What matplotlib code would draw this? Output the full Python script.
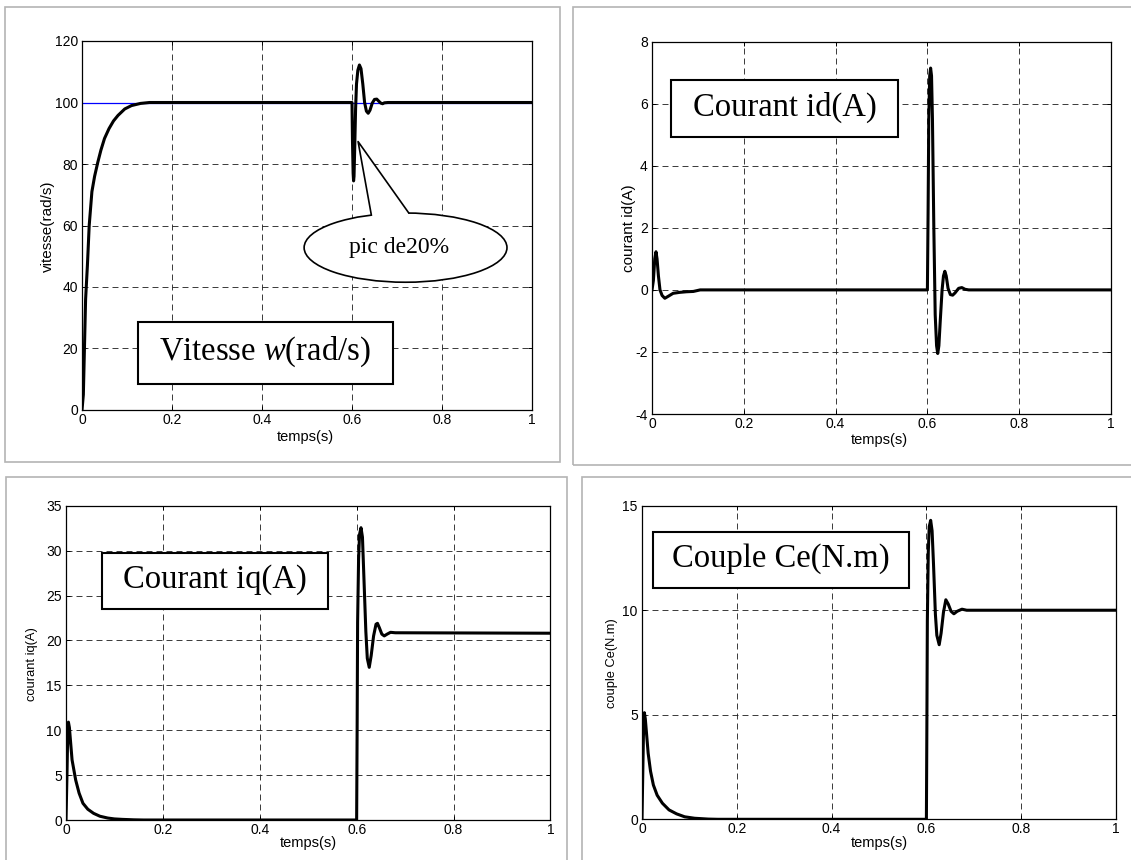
import matplotlib
matplotlib.use("Agg")
import matplotlib.pyplot as plt
from matplotlib.patches import Rectangle, Ellipse, Polygon

# Simulation results: speed, d/q currents and torque (load step at t = 0.6 s)
speed_t = [0, 0.003, 0.008, 0.012, 0.016, 0.022, 0.028, 0.035, 0.042, 0.05,
           0.06, 0.07, 0.08, 0.095, 0.11, 0.13, 0.15, 0.6,
           0.601, 0.6025, 0.6035, 0.6045, 0.606, 0.608, 0.610, 0.613, 0.6165,
           0.620, 0.624, 0.628, 0.632, 0.636, 0.640, 0.645, 0.650, 0.655,
           0.659, 0.664, 0.668, 0.672, 0.68, 1.0]
speed_v = [0, 5, 36, 47, 60, 71, 76, 80.5, 84.5, 88.3,
           91.5, 94, 95.8, 97.9, 99, 99.7, 100, 100,
           88, 77, 74.5, 76, 85, 98, 106, 110.5, 112.2,
           111, 106, 100, 97.2, 96.5, 97.5, 99.8, 101, 101.1,
           100.5, 99.8, 99.6, 99.9, 100, 100]
speed_ref_t = [0, 1]
speed_ref_v = [100, 100]

id_t = [0, 0.003, 0.006, 0.0087, 0.011, 0.014, 0.0174, 0.022, 0.028, 0.036,
        0.046, 0.06, 0.075, 0.09, 0.105, 0.6,
        0.6015, 0.603, 0.605, 0.607, 0.609, 0.611, 0.614, 0.617, 0.620,
        0.6225, 0.625, 0.628, 0.632, 0.635, 0.638, 0.641, 0.645, 0.650,
        0.655, 0.660, 0.668, 0.675, 0.682, 0.690, 1.0]
id_v = [0, 0.3, 1.0, 1.23, 1.0, 0.45, 0.0, -0.18, -0.27, -0.2,
        -0.11, -0.08, -0.06, -0.05, 0, 0,
        2.5, 5.5, 6.9, 7.15, 6.9, 5.5, 2.0, -0.8, -1.8,
        -2.05, -1.8, -1.0, 0.0, 0.45, 0.6, 0.45, 0.05, -0.15,
        -0.17, -0.1, 0.05, 0.075, 0.02, 0, 0]

iq_t = [0, 0.002, 0.003, 0.005, 0.007, 0.0125, 0.02, 0.027, 0.035, 0.045,
        0.057, 0.07, 0.086, 0.1, 0.116, 0.14, 0.16, 0.6,
        0.601, 0.602, 0.604, 0.606, 0.609, 0.612, 0.615, 0.619, 0.622,
        0.626, 0.630, 0.635, 0.640, 0.643, 0.647, 0.652, 0.657, 0.663,
        0.670, 0.680, 1.0]
iq_v = [0, 5, 8, 10.9, 10.3, 6.7, 4.45, 3.0, 1.86, 1.2,
        0.74, 0.42, 0.22, 0.12, 0.07, 0.02, 0, 0,
        10, 22, 29, 31.8, 32.55, 31.5, 27, 21, 18,
        17.0, 18.3, 20.5, 21.8, 21.9, 21.4, 20.7, 20.5, 20.7,
        20.9, 20.85, 20.8]

ce_t = [0, 0.003, 0.005, 0.007, 0.013, 0.018, 0.024, 0.032, 0.043, 0.057,
        0.073, 0.09, 0.111, 0.14, 0.16, 0.6,
        0.601, 0.602, 0.604, 0.606, 0.609, 0.612, 0.615, 0.619, 0.622,
        0.627, 0.631, 0.636, 0.641, 0.646, 0.652, 0.658, 0.665, 0.675,
        0.685, 1.0]
ce_v = [0, 4, 5.1, 4.8, 3.16, 2.3, 1.64, 1.15, 0.77, 0.45,
        0.26, 0.12, 0.05, 0.01, 0, 0,
        4.5, 9.5, 12.8, 14.0, 14.3, 13.8, 12.2, 9.8, 8.8,
        8.35, 8.9, 9.9, 10.5, 10.3, 9.95, 9.83, 9.95, 10.05,
        10, 10]

x_ticks = [0, 0.2, 0.4, 0.6, 0.8, 1]
x_ticklabels = ["0", "0.2", "0.4", "0.6", "0.8", "1"]

W, H = 1131, 860
plt.rcParams["font.family"] = "Liberation Sans"
plt.rcParams["lines.scale_dashes"] = False
plt.rcParams["mathtext.fontset"] = "custom"
plt.rcParams["mathtext.rm"] = "Liberation Serif"
plt.rcParams["mathtext.it"] = "Liberation Serif:italic"

fig = plt.figure(figsize=(W / 100, H / 100), dpi=100)


def fx(x):
    return x / W


def fy(y):
    return 1 - y / H


def add_panel_frame(l, t, r, b):
    fig.add_artist(Rectangle((fx(l), fy(b)), (r - l) / W, (b - t) / H,
                             transform=fig.transFigure, fill=False,
                             ec="#b4b4b4", lw=1.2))


def make_axes(l, t, r, b, ylim, yticks):
    ax = fig.add_axes([fx(l), fy(b), (r - l) / W, (b - t) / H])
    ax.set_xlim(0, 1)
    ax.set_ylim(*ylim)
    ax.set_xticks(x_ticks)
    ax.set_xticklabels(x_ticklabels)
    ax.set_yticks(yticks)
    ax.set_yticklabels([str(v) for v in yticks])
    ax.grid(True, color="0.1", linestyle=(0, (4.3, 2.9)), lw=0.6)
    ax.tick_params(direction="in", top=True, right=True, length=3,
                   width=0.7, labelsize=10, pad=3)
    ax.tick_params(axis="x", pad=2)
    for s in ax.spines.values():
        s.set_linewidth(0.9)
    return ax


def label_box(l, t, r, b, text):
    fig.add_artist(Rectangle((fx(l), fy(b)), (r - l) / W, (b - t) / H,
                             transform=fig.transFigure, fc="white",
                             ec="black", lw=1.5, zorder=10))
    fig.text(fx((l + r) / 2), fy((t + b) / 2 - 1), text, ha="center",
             va="center", fontsize=23.5, family="Liberation Serif",
             zorder=11)


def axis_labels(xl_x, xl_y, xlabel, yl_x, yl_y, ylabel, ysize):
    fig.text(fx(xl_x), fy(xl_y), xlabel, ha="center", va="center",
             fontsize=10.5)
    fig.text(fx(yl_x), fy(yl_y), ylabel, ha="center", va="center",
             rotation=90, fontsize=ysize)


# gray frames around each sub-figure
add_panel_frame(5, 7.3, 560, 461.7)
add_panel_frame(573, 7.3, 1140, 465)
add_panel_frame(5.7, 476.7, 566.7, 870)
add_panel_frame(581.7, 476.7, 1140, 870)

# speed
ax1 = make_axes(82, 41, 532, 410, (0, 120), [0, 20, 40, 60, 80, 100, 120])
ax1.plot(speed_ref_t, speed_ref_v, color="blue", lw=0.9)
ax1.plot(speed_t, speed_v, color="black", lw=2.2)
ax1.add_patch(Ellipse((0.719, 52.8), 0.4508, 22.5, fc="white", ec="black",
                      lw=1.2, zorder=5))
ax1.add_patch(Polygon([(0.6135, 87.3), (0.643, 63.4), (0.66, 58),
                       (0.71, 58), (0.726, 64.1)],
                      closed=True, fc="white", ec="none", zorder=6))
ax1.plot([0.643, 0.6135, 0.726], [63.4, 87.3, 64.1], color="black", lw=1.2,
         zorder=7)
ax1.text(0.705, 53.0, "pic de20%", ha="center", va="center", fontsize=17,
         family="Liberation Serif", zorder=8)
label_box(138, 321.7, 392.5, 384, r"Vitesse $w$(rad/s)")
axis_labels(305, 437, "temps(s)", 48, 226, "vitesse(rad/s)", 11)

# d-axis current
ax2 = make_axes(652, 41.7, 1111, 414, (-4, 8), [-4, -2, 0, 2, 4, 6, 8])
ax2.plot(id_t, id_v, color="black", lw=2.2)
label_box(671.4, 80, 898, 136.7, "Courant id(A)")
axis_labels(879, 440, "temps(s)", 628.5, 228, "courant id(A)", 11)

# q-axis current
ax3 = make_axes(66, 505.7, 550.4, 820, (0, 35),
                [0, 5, 10, 15, 20, 25, 30, 35])
ax3.plot(iq_t, iq_v, color="black", lw=2.2)
label_box(102, 552.7, 328.2, 609, "Courant iq(A)")
axis_labels(308, 843.3, "temps(s)", 32.5, 664, "courant iq(A)", 9.3)

# electromagnetic torque
ax4 = make_axes(642, 505.7, 1116, 819.3, (0, 15), [0, 5, 10, 15])
ax4.plot(ce_t, ce_v, color="black", lw=2.2)
label_box(653, 531.7, 908.5, 588.3, "Couple Ce(N.m)")
axis_labels(879, 843.3, "temps(s)", 612, 663, "couple Ce(N.m)", 9.3)

fig.savefig("out.png", dpi=100)
